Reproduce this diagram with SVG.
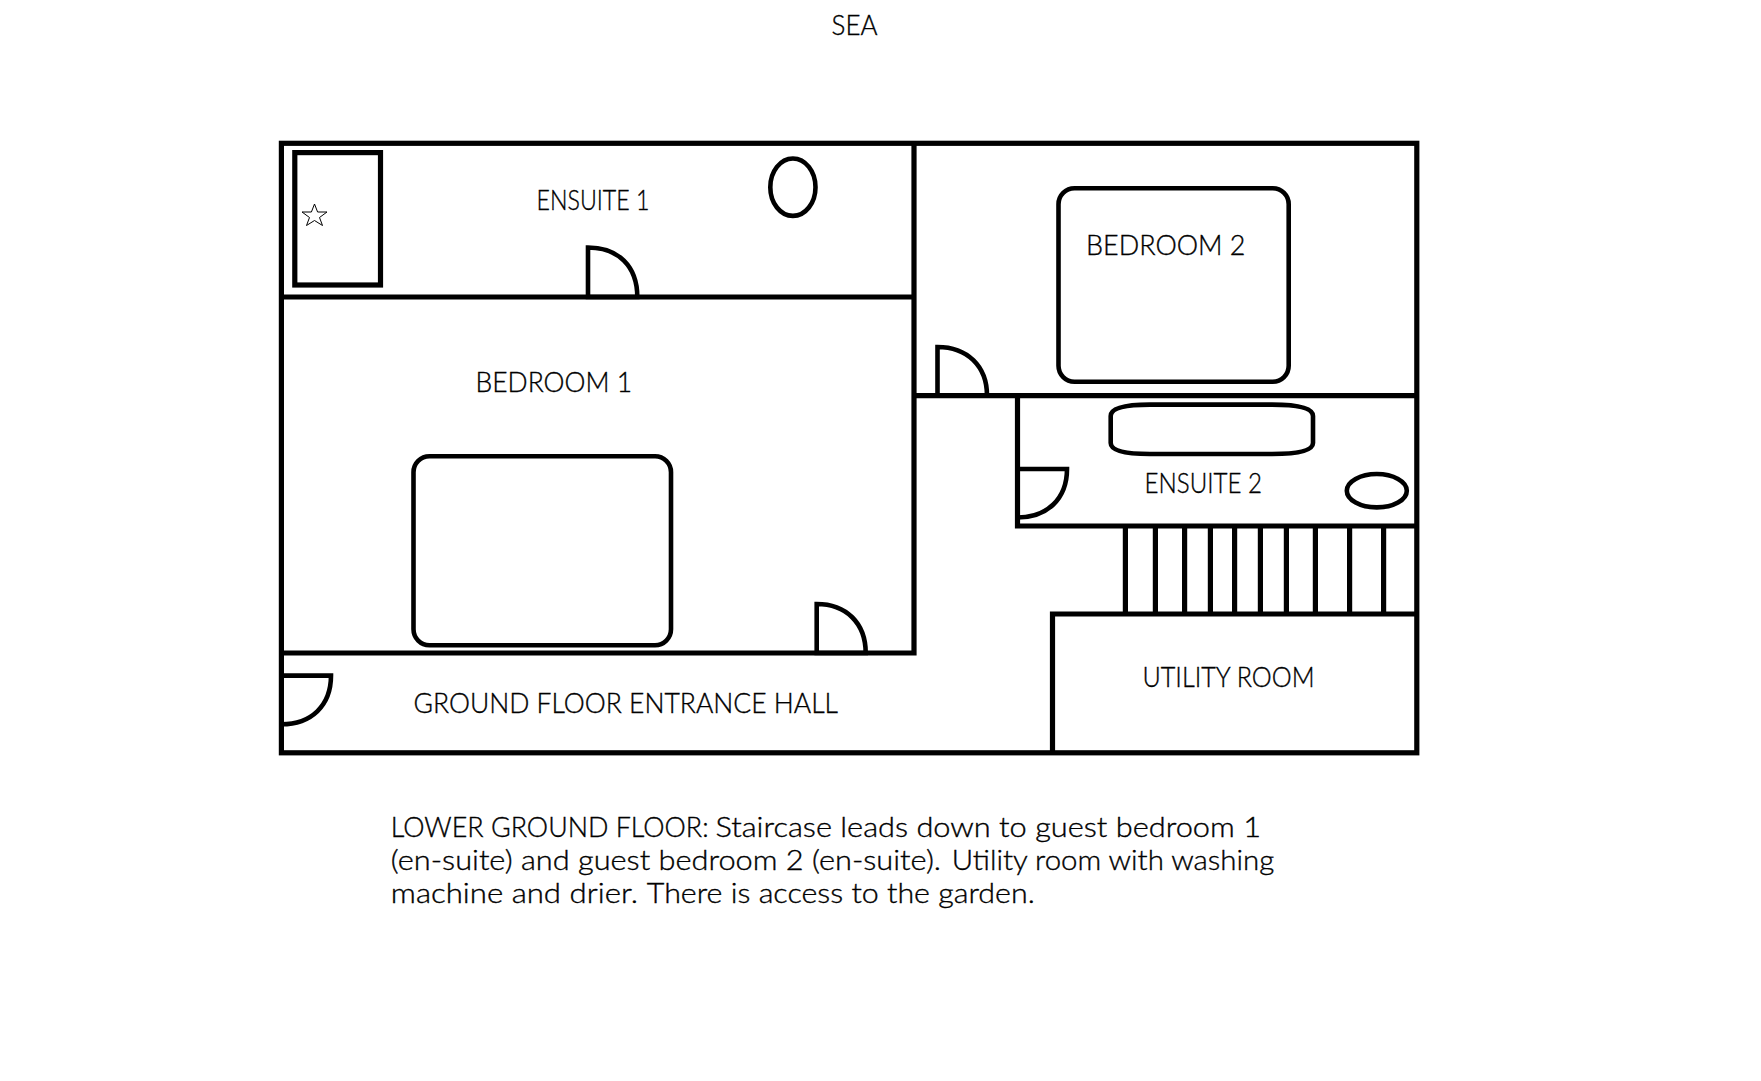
<svg xmlns="http://www.w3.org/2000/svg" width="1761" height="1081" viewBox="0 0 1761 1081">
<style>
.w{fill:none;stroke:#000;stroke-width:5.2}
.d{fill:none;stroke:#000;stroke-width:4.6}
.t{font-family:"Lato","Liberation Sans",sans-serif;font-size:27px;fill:#000;font-weight:300;stroke:#000;stroke-width:0.35}
</style>
<rect width="1761" height="1081" fill="#fff"/>
<g id="walls" class="w">
<rect x="281.4" y="143.3" width="1135.4" height="609.5"/>
<path d="M281.4 297H914"/>
<path d="M914 143.3V653H281.4"/>
<path d="M912.5 395.6H1419"/>
<path d="M1017.5 395.6V526H1419"/>
<path d="M1052.5 752.8V614H1416.8"/>
</g>
<g id="stairs" class="w">
<path d="M1125.4 526V614M1155.4 526V614M1184.6 526V614M1210.4 526V614M1234.6 526V614M1260.4 526V614M1286.4 526V614M1315.4 526V614M1349.6 526V614M1383.6 526V614"/>
</g>
<g id="ensuite-1">
<rect class="w" x="294.8" y="152.6" width="85.7" height="132.4"/>
<polygon points="314.5,204 317.6,212 327,212 319.5,217.5 322.5,225.5 314.5,220.5 306.5,225.5 309.5,217.5 302,212 311.4,212" fill="none" stroke="#000" stroke-width="1"/>
<ellipse class="d" cx="792.9" cy="187.2" rx="22.6" ry="28.7"/>
<path class="d" d="M637.3 297C637.3 266 618 247.5 588 247.5V297Z"/>
<text class="t" x="536.5" y="209.5" textLength="113" lengthAdjust="spacingAndGlyphs">ENSUITE 1</text>
</g>
<g id="bedroom-1">
<rect class="d" x="413.5" y="456.3" width="257.5" height="189" rx="16" ry="16"/>
<path class="d" d="M865.7 653C865.7 623 846 604 816.7 604V653Z"/>
<text class="t" x="475.5" y="391.5" textLength="156.5" lengthAdjust="spacingAndGlyphs">BEDROOM 1</text>
</g>
<g id="bedroom-2">
<rect class="d" x="1058.5" y="188.3" width="230.2" height="193.4" rx="16" ry="16"/>
<path class="d" d="M987 395.6C987 366 967 347 937.5 347V395.6Z"/>
<text class="t" x="1086" y="254.5" textLength="159.5" lengthAdjust="spacingAndGlyphs">BEDROOM 2</text>
</g>
<g id="ensuite-2">
<path class="d" d="M1110.7 416Q1110.7 404.6 1150 404.6H1272Q1313 404.6 1313 416V443Q1313 454 1272 454H1150Q1110.7 454 1110.7 443Z"/>
<ellipse class="d" cx="1376.8" cy="490.7" rx="30" ry="16.7"/>
<path class="d" d="M1017.5 469H1067C1067 499 1047 517.5 1017.5 517.5"/>
<text class="t" x="1144.5" y="492.5" textLength="117.5" lengthAdjust="spacingAndGlyphs">ENSUITE 2</text>
</g>
<g id="entrance-hall">
<path class="d" d="M281.4 675.6H331C331 706 311 724.3 281.4 724.3"/>
<text class="t" x="413.5" y="713" textLength="424.5" lengthAdjust="spacingAndGlyphs">GROUND FLOOR ENTRANCE HALL</text>
</g>
<g id="utility-room">
<text class="t" x="1142.5" y="687" textLength="172" lengthAdjust="spacingAndGlyphs">UTILITY ROOM</text>
</g>
<g id="labels">
<text class="t" x="831.5" y="34.5" textLength="46" lengthAdjust="spacingAndGlyphs">SEA</text>
<text class="t" x="390.8" y="836.8" textLength="317.8" lengthAdjust="spacingAndGlyphs">LOWER GROUND FLOOR:</text>
<text class="t" x="715.4" y="836.8" textLength="545.6" lengthAdjust="spacingAndGlyphs">Staircase leads down to guest bedroom 1</text>
<text class="t" x="390.8" y="869.8" textLength="550.2" lengthAdjust="spacingAndGlyphs">(en-suite) and guest bedroom 2 (en-suite).</text>
<text class="t" x="951.8" y="869.8" textLength="322.4" lengthAdjust="spacingAndGlyphs">Utility room with washing</text>
<text class="t" x="390.8" y="903" textLength="247.2" lengthAdjust="spacingAndGlyphs">machine and drier.</text>
<text class="t" x="646.8" y="903" textLength="388" lengthAdjust="spacingAndGlyphs">There is access to the garden.</text>
</g>
</svg>
